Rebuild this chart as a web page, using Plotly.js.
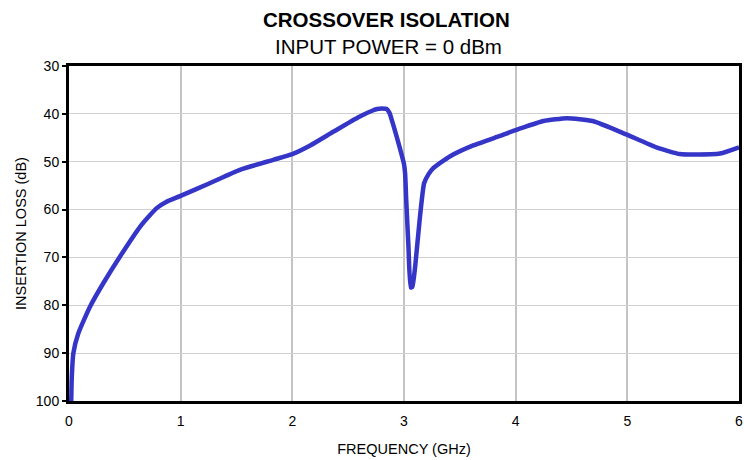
<!DOCTYPE html>
<html><head><meta charset="utf-8">
<script src="https://cdn.plot.ly/plotly-3.0.1.min.js"></script>
<style>body{margin:0;background:#fff}#c{width:744px;height:460px}</style>
</head><body><div id="c"></div>
<script>
const freqGHz = [0.02,0.025,0.039,0.083,0.188,0.307,0.457,0.636,0.72,0.785,0.87,0.994,1.26,1.53,1.83,2.0,2.16,2.37,2.6,2.72,2.76,2.8,2.845,2.87,2.90,2.96,3.0,3.01,3.02,3.04,3.06,3.075,3.10,3.14,3.18,3.22,3.26,3.41,3.62,3.86,4.05,4.25,4.46,4.69,4.99,5.26,5.47,5.6,5.83,6.0];
const lossDB  = [100,95,90.0,85.9,80.3,75.4,69.8,63.6,61.3,59.7,58.4,57.2,54.5,51.7,49.6,48.4,46.6,43.7,40.6,39.3,39.0,38.9,39.0,39.8,42.0,46.9,50.5,52.5,58.0,67.8,76.3,76.1,71.9,62.2,54.5,52.6,51.4,48.9,46.6,44.6,43.0,41.5,40.9,41.5,44.3,47.0,48.4,48.5,48.3,47.0];
const xTicks = [0,1,2,3,4,5,6];
const yTicks = [30,40,50,60,70,80,90,100];

const font = {family:'"Liberation Sans", Arial, sans-serif', color:'#000'};
const f = s => Object.assign({size:s}, font);
Plotly.newPlot('c', [{
  x: freqGHz, y: lossDB, type:'scatter', mode:'lines',
  line:{color:'#3535c8', width:4.5, shape:'spline', smoothing:0.5},
  hoverinfo:'skip'
}], {
  width:744, height:460,
  margin:{l:69, r:5, t:66, b:59},
  paper_bgcolor:'#fff', plot_bgcolor:'#fff',
  showlegend:false,
  font:f(14),
  xaxis:{range:[0,6], tickvals:xTicks, ticktext:xTicks.map(String), showgrid:true, gridcolor:'#c4c4c4', gridwidth:2,
    zeroline:false, showline:true, linecolor:'#000', linewidth:3, mirror:true, ticks:'', ticklabelstandoff:5,
    tickfont:f(14),
    title:{text:'FREQUENCY (GHz)', font:f(14.5), standoff:17}},
  yaxis:{range:[100,30], tickvals:yTicks, ticktext:yTicks.map(String), showgrid:true, gridcolor:'#d0d0d0', gridwidth:1,
    zeroline:false, showline:true, linecolor:'#000', linewidth:3, mirror:true, ticks:'outside', ticklen:4, tickwidth:2, tickcolor:'#000',
    tickfont:f(14),
    title:{text:'INSERTION LOSS (dB)', font:f(14.5), standoff:6}},
  annotations:[
    {text:'<b>CROSSOVER ISOLATION</b>', xref:'paper', yref:'paper', x:(386-69)/670, y:(401-20)/335, yanchor:'middle', showarrow:false, font:f(20.5)},
    {text:'INPUT POWER = 0 dBm', xref:'paper', yref:'paper', x:(388-69)/670, y:(401-46)/335, yanchor:'middle', showarrow:false, font:f(20.5)}
  ]
}, {staticPlot:true, displayModeBar:false});
</script></body></html>
